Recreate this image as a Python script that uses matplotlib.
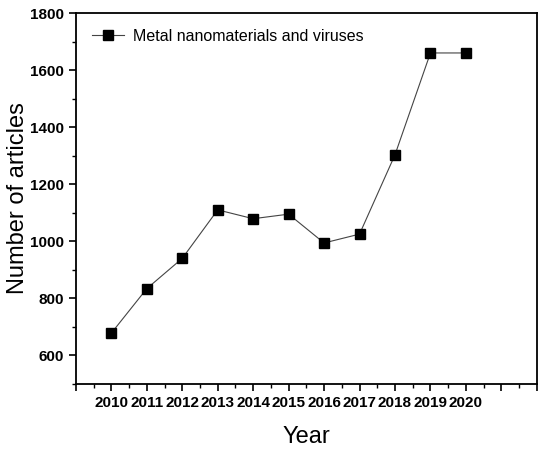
import matplotlib
matplotlib.use('Agg')
import matplotlib.pyplot as plt
from matplotlib.ticker import MultipleLocator

plt.rcParams['font.family'] = ['Liberation Sans', 'DejaVu Sans']

years = [2010, 2011, 2012, 2013, 2014, 2015, 2016, 2017, 2018, 2019, 2020]
articles = [678, 834, 940, 1110, 1079, 1095, 994, 1025, 1303, 1660, 1660]
tick_years = list(range(2010, 2021))

fig = plt.figure(figsize=(5.5, 4.49), dpi=100)
ax = fig.add_axes([0.138, 0.145, 0.838, 0.826])

ax.plot(years, articles, color='#444444', linewidth=0.8, marker='s',
        markersize=7, markerfacecolor='black', markeredgecolor='black',
        label='Metal nanomaterials and viruses')

ax.set_xlim(2009, 2022)
ax.set_ylim(500, 1800)
ax.set_xticks(range(2009, 2023))
ax.set_xticklabels([str(y) if y in tick_years else '' for y in range(2009, 2023)])
ax.xaxis.set_minor_locator(MultipleLocator(0.5))
ax.yaxis.set_major_locator(MultipleLocator(200))
ax.yaxis.set_minor_locator(MultipleLocator(100))
ax.tick_params(axis='both', which='major', direction='out', length=5, width=1.2,
               labelsize=11)
ax.tick_params(axis='both', which='minor', direction='out', length=3, width=1.0)
for lab in ax.get_xticklabels() + ax.get_yticklabels():
    lab.set_fontweight('bold')
for sp in ax.spines.values():
    sp.set_linewidth(1.3)

ax.set_xlabel('Year', fontsize=17, labelpad=12)
ax.set_ylabel('Number of articles', fontsize=17)
ax.yaxis.set_label_coords(-0.102, 0.5)

ax.legend(loc='upper left', frameon=False, fontsize=11.5, handlelength=2.0,
          borderaxespad=0.6, handletextpad=0.6)

fig.savefig('out.png', dpi=100)
